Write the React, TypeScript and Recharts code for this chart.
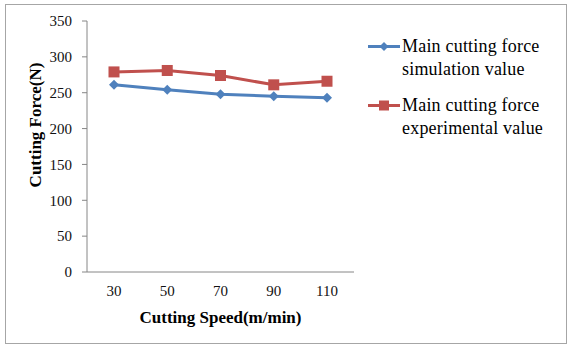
import React from 'react';
import { LineChart, Line, XAxis, YAxis, Legend } from 'recharts';

const speeds = ['30', '50', '70', '90', '110'];
const simulationForce = [261, 254, 248, 245, 243];
const experimentalForce = [279, 281, 274, 261, 266];
const forceTicks = [0, 50, 100, 150, 200, 250, 300, 350];

const seriesNames = [
  ['Main cutting force', 'simulation value'],
  ['Main cutting force', 'experimental value'],
];

const BLUE = '#4F81BD';
const RED = '#C0504D';
const FONT = "'Liberation Serif', 'Times New Roman', Times, serif";

const chartData = speeds.map((s, i) => ({
  speed: s,
  simulation: simulationForce[i],
  experimental: experimentalForce[i],
}));

const Diamond = (props: any) => {
  const { cx, cy } = props;
  if (cx == null || cy == null) return null;
  const r = 5;
  return (
    <path
      d={`M${cx},${cy - r}L${cx + r},${cy}L${cx},${cy + r}L${cx - r},${cy}Z`}
      fill={BLUE}
    />
  );
};

const Square = (props: any) => {
  const { cx, cy } = props;
  if (cx == null || cy == null) return null;
  const h = 5.5;
  return <rect x={cx - h} y={cy - h} width={h * 2} height={h * 2} fill={RED} />;
};

function LegendContent() {
  const items = [
    { color: BLUE, marker: 'diamond', lines: seriesNames[0] },
    { color: RED, marker: 'square', lines: seriesNames[1] },
  ];
  return (
    <div style={{ fontFamily: FONT, fontSize: 18, color: '#000' }}>
      {items.map((it, i) => (
        <div
          key={i}
          style={{ display: 'flex', alignItems: 'flex-start', marginBottom: 13 }}
        >
          <svg width={34} height={23} style={{ flexShrink: 0 }}>
            <line x1={0} y1={11.5} x2={32} y2={11.5} stroke={it.color} strokeWidth={3} />
            {it.marker === 'diamond' ? (
              <path d="M16,7L20.5,11.5L16,16L11.5,11.5Z" fill={it.color} />
            ) : (
              <rect x={11} y={6.5} width={10} height={10} fill={it.color} />
            )}
          </svg>
          <div style={{ lineHeight: '23px', letterSpacing: 0.2, whiteSpace: 'nowrap' }}>
            {it.lines.map((l, j) => (
              <div key={j}>{l}</div>
            ))}
          </div>
        </div>
      ))}
    </div>
  );
}

export default function App() {
  return (
    <div
      style={{
        position: 'absolute',
        left: 0,
        top: 0,
        width: 568,
        height: 345,
        background: '#fff',
        fontFamily: FONT,
      }}
    >
      <div
        style={{
          position: 'absolute',
          left: 5,
          top: 4,
          width: 560,
          height: 338,
          border: '1px solid #a6a6a6',
        }}
      />
      <LineChart
        width={568}
        height={345}
        data={chartData}
        margin={{ top: 21, right: 214, left: 0, bottom: 13 }}
        style={{ position: 'absolute', left: 0, top: 0, fontFamily: FONT }}
      >
        <XAxis
          dataKey="speed"
          height={60}
          padding={{ left: 27, right: 27 }}
          stroke="#868686"
          tickLine={false}
          tickSize={0}
          tickMargin={13}
          tick={{ fill: '#111', fontSize: 15, fontFamily: FONT }}
          label={{
            content: (p: any) => {
              const vb = p.viewBox;
              return (
                <text
                  x={vb.x + vb.width / 2}
                  y={vb.y + 51}
                  textAnchor="middle"
                  fontFamily={FONT}
                  fontWeight="bold"
                  fontSize={17}
                  fill="#000"
                >
                  Cutting Speed(m/min)
                </text>
              );
            },
          }}
        />
        <YAxis
          width={87}
          domain={[0, 350]}
          ticks={forceTicks}
          interval={0}
          stroke="#868686"
          tickSize={5}
          tickMargin={10}
          tick={{ fill: '#111', fontSize: 15, fontFamily: FONT }}
          label={{
            content: () => (
              <text
                x={35}
                y={125}
                transform="rotate(-90, 35, 125)"
                textAnchor="middle"
                dominantBaseline="central"
                fontFamily={FONT}
                fontWeight="bold"
                fontSize={17}
                fill="#000"
              >
                Cutting Force(N)
              </text>
            ),
          }}
        />
        <Legend
          layout="horizontal"
          verticalAlign="middle"
          align="center"
          content={() => <LegendContent />}
          wrapperStyle={{ left: 368, top: 35, width: 195 }}
        />
        <Line
          dataKey="simulation"
          stroke={BLUE}
          strokeWidth={3}
          dot={<Diamond />}
          activeDot={false}
          isAnimationActive={false}
        />
        <Line
          dataKey="experimental"
          stroke={RED}
          strokeWidth={3}
          dot={<Square />}
          activeDot={false}
          isAnimationActive={false}
        />
      </LineChart>
    </div>
  );
}
